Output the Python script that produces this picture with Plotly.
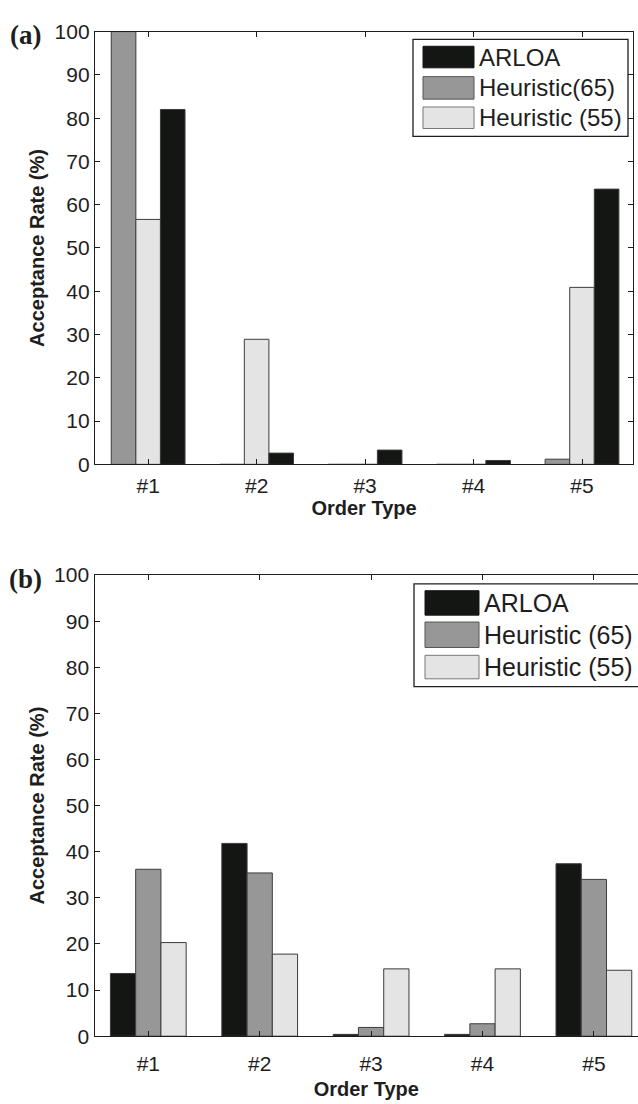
import plotly.graph_objects as go

# ---- data -------------------------------------------------------------
order_types = ["#1", "#2", "#3", "#4", "#5"]

# panel (a)
a_arloa = [82.0, 2.6, 3.3, 0.9, 63.6]
a_h65 = [100.0, 0.0, 0.0, 0.0, 1.2]
a_h55 = [56.6, 28.9, 0.0, 0.0, 40.9]
a_names = ["ARLOA", "Heuristic(65)", "Heuristic (55)"]

# panel (b)
b_arloa = [13.6, 41.8, 0.4, 0.4, 37.4]
b_h65 = [36.2, 35.4, 1.9, 2.7, 34.0]
b_h55 = [20.3, 17.8, 14.6, 14.6, 14.3]
b_names = ["ARLOA", "Heuristic (65)", "Heuristic (55)"]

y_ticks = list(range(0, 101, 10))

# ---- styles -----------------------------------------------------------
W, H = 638, 1104
C_ARLOA = "#141614"
C_H65 = "#979797"
C_H55 = "#e4e4e4"
EDGE = "#3c3c3c"
INK = "#1e1e1e"
SANS = "Liberation Sans, Arial, sans-serif"
SERIF = "Liberation Serif, Times New Roman, serif"


def px(x):
    return x / W


def py(y):
    return 1 - y / H


fig = go.Figure()


def add_bar(name, values, color, xa, ya):
    fig.add_trace(go.Bar(
        name=name, x=order_types, y=values, xaxis=xa, yaxis=ya,
        marker=dict(color=color, line=dict(color=EDGE, width=1)),
        showlegend=False,
    ))


# panel (a): grey, light, black within each group
add_bar(a_names[1], a_h65, C_H65, "x", "y")
add_bar(a_names[2], a_h55, C_H55, "x", "y")
add_bar(a_names[0], a_arloa, C_ARLOA, "x", "y")

# panel (b): black, grey, light within each group
add_bar(b_names[0], b_arloa, C_ARLOA, "x2", "y2")
add_bar(b_names[1], b_h65, C_H65, "x2", "y2")
add_bar(b_names[2], b_h55, C_H55, "x2", "y2")

axis_common = dict(
    showline=True, linecolor=INK, linewidth=1.3,
    ticks="inside", ticklen=5, tickwidth=1, tickcolor=INK,
    showgrid=False, zeroline=False,
    tickfont=dict(family=SANS, size=21, color=INK),
)
title_font = dict(family=SANS, size=20, color=INK)

fig.update_layout(
    width=W, height=H, margin=dict(l=0, r=0, t=0, b=0),
    paper_bgcolor="white", plot_bgcolor="white",
    barmode="group", bargap=0.32, bargroupgap=0,
    xaxis=dict(axis_common, domain=[px(95), px(633)], anchor="y",
               range=[-0.49, 4.47], mirror="ticks", ticklabelstandoff=2,
               title=dict(text="<b>Order Type</b>", font=title_font, standoff=3)),
    yaxis=dict(axis_common, domain=[py(462), py(20)], anchor="x",
               range=[0, 100], tickvals=y_ticks, mirror="ticks",
               title=dict(text="<b>Acceptance Rate (%)</b>", font=title_font, standoff=4)),
    xaxis2=dict(axis_common, domain=[px(94.5), 1.0], anchor="y2",
                range=[-0.483, 4.396], mirror="ticks", ticklabelstandoff=8,
                title=dict(text="<b>Order Type</b>", font=title_font, standoff=8)),
    yaxis2=dict(axis_common, domain=[py(1046), py(575)], anchor="x2",
                range=[0, 100], tickvals=y_ticks, mirror=False,
                title=dict(text="<b>Acceptance Rate (%)</b>", font=title_font, standoff=4)),
)

# ---- panel tags ---------------------------------------------------------
for tag, cy in (("(a)", 24), ("(b)", 579)):
    fig.add_annotation(x=px(25), y=py(cy), xref="paper", yref="paper",
                       xanchor="center", yanchor="middle",
                       text="<b>%s</b>" % tag, showarrow=False,
                       font=dict(family=SERIF, size=27, color=INK))


# ---- legends (boxed, with large swatches) -------------------------------
def draw_legend(names, box, sw_x, rows, text_x, font_size):
    x0, y0, x1, y1 = box
    fig.add_shape(type="rect", xref="paper", yref="paper",
                  x0=px(x0), x1=px(x1), y0=py(y1), y1=py(y0),
                  line=dict(color=INK, width=1.3), fillcolor="white", layer="above")
    colors = [C_ARLOA, C_H65, C_H55]
    edges = [C_ARLOA, "#555555", "#777777"]
    for name, color, edge, (ra, rb) in zip(names, colors, edges, rows):
        fig.add_shape(type="rect", xref="paper", yref="paper",
                      x0=px(sw_x[0]), x1=px(sw_x[1]), y0=py(rb), y1=py(ra),
                      line=dict(color=edge, width=1), fillcolor=color, layer="above")
        fig.add_annotation(x=px(text_x), y=py((ra + rb) / 2), xref="paper", yref="paper",
                           text=name, showarrow=False, xanchor="left", yanchor="middle",
                           font=dict(family=SANS, size=font_size, color=INK))


draw_legend(a_names, (413, 28, 628, 127), (423, 474),
            [(35, 57), (66, 89), (97, 119)], 477, 24)
draw_legend(b_names, (414, 584, 642, 689), (425, 479),
            [(591, 616), (623, 649), (657, 681)], 482, 25)

fig.write_html("out.html")
